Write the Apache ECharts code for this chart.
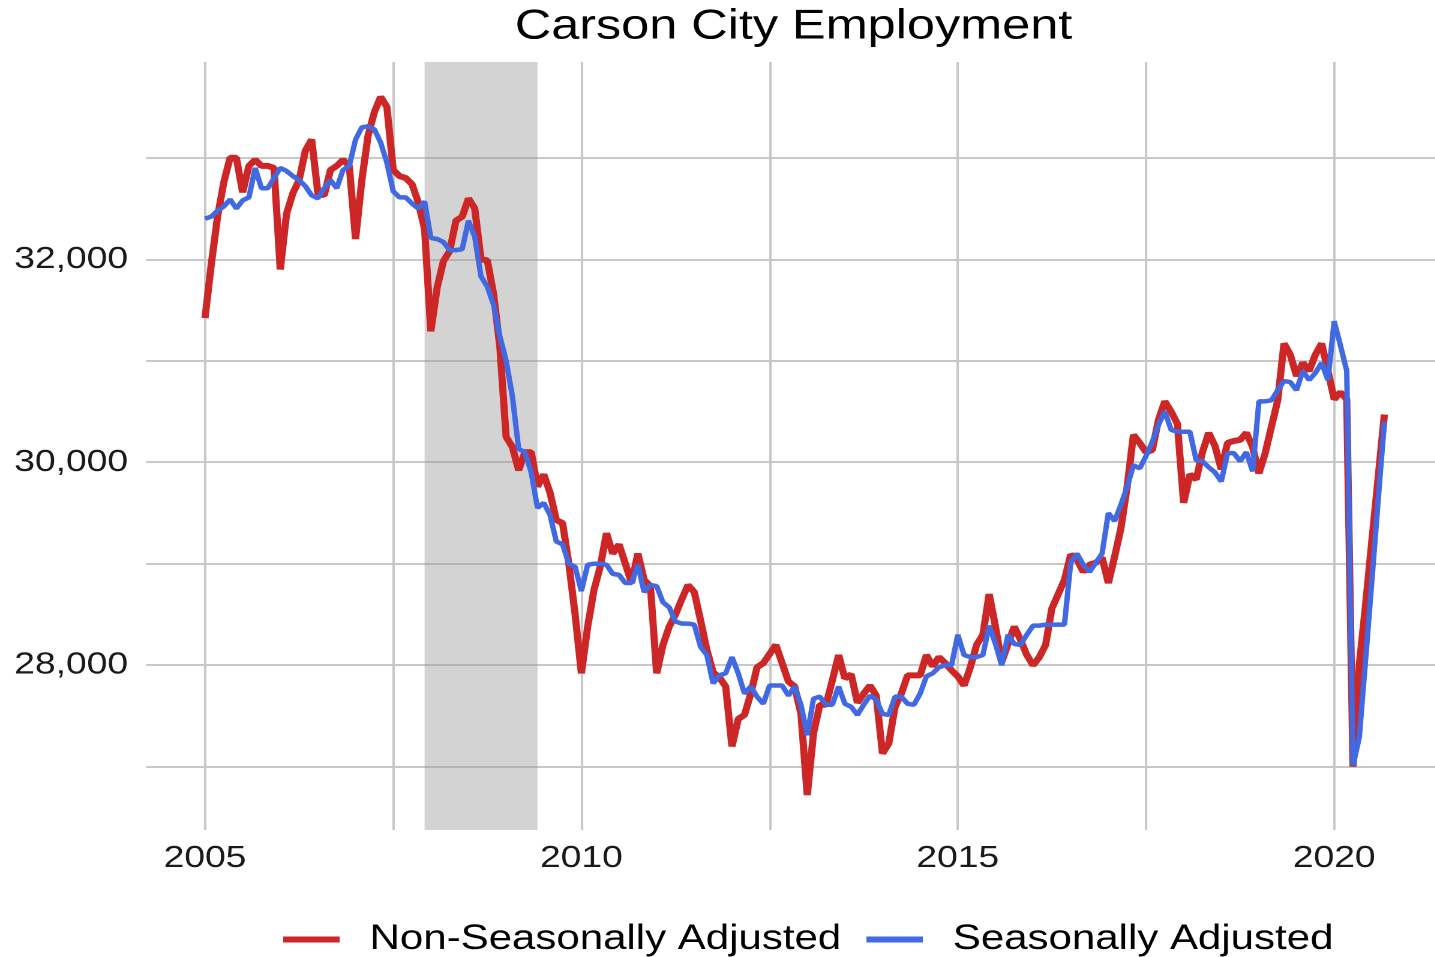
<!DOCTYPE html>
<html>
<head>
<meta charset="utf-8">
<title>Carson City Employment</title>
<script src="https://cdn.jsdelivr.net/npm/echarts@6/dist/echarts.min.js"></script>
<style>
  html, body { margin: 0; padding: 0; background: #fff; overflow: hidden; }
  /* the source picture is stretched sideways, so draw narrow and widen it */
  #chart { width: 1196px; height: 957px; transform: scaleX(1.2); transform-origin: 0 0; }
</style>
</head>
<body>
<div id="chart"></div>
<script>
// monthly values, Jan 2005 .. Sep 2020, one row per year
var startYear = 2005;
var nsaValues = [
  31420, 31950, 32420, 32760, 33000, 33000, 32660, 32920, 32980, 32920, 32920, 32900,
  31900, 32450, 32650, 32780, 33070, 33180, 32650, 32630, 32880, 32920, 32980, 32920,
  32200, 32780, 33220, 33450, 33600, 33500, 32880, 32820, 32800, 32740, 32560, 32300,
  31290, 31720, 31980, 32080, 32380, 32420, 32600, 32500, 32000, 31990, 31660, 31140,
  30250, 30150, 29920, 30100, 30100, 29760, 29880, 29700, 29430, 29400, 29000, 28500,
  27920, 28380, 28740, 28970, 29300, 29100, 29190, 29000, 28810, 29100, 28840, 28780,
  27920, 28200, 28380, 28500, 28650, 28790, 28720, 28440, 28150, 27930, 27880, 27790,
  27200, 27470, 27510, 27720, 27980, 28020, 28110, 28200, 28020, 27840, 27790, 27520,
  26720, 27330, 27610, 27610, 27850, 28100, 27870, 27910, 27630, 27720, 27800, 27700,
  27130, 27230, 27590, 27720, 27900, 27900, 27900, 28100, 27990, 28080, 28020, 27950,
  27890, 27800, 27980, 28200, 28300, 28700, 28380, 28030, 28210, 28380, 28250, 28100,
  28000, 28080, 28200, 28560, 28700, 28840, 29090, 29040, 28920, 28990, 29010, 29060,
  28810, 29070, 29350, 29760, 30270, 30190, 30100, 30120, 30420, 30600, 30500, 30380,
  29600, 29880, 29830, 30100, 30290, 30160, 29930, 30190, 30210, 30220, 30290, 30150,
  29890, 30090, 30350, 30610, 31170, 31060, 30850, 30980, 30900, 31060, 31170, 30900,
  30620, 30690, 30620, 27000, 28000, 28590, 29220, 29840, 30470
];
var saValues = [
  32400, 32420, 32480, 32520, 32590, 32500, 32580, 32610, 32900, 32700, 32700, 32800,
  32900, 32870, 32820, 32780, 32720, 32630, 32600, 32700, 32780, 32700, 32880, 32920,
  33180, 33300, 33310, 33280, 33150, 32950, 32670, 32610, 32610, 32550, 32500, 32570,
  32210, 32200, 32170, 32090, 32090, 32100, 32380, 32220, 31830, 31730, 31550, 31240,
  31000, 30650, 30130, 30100, 29900, 29550, 29600, 29480, 29220, 29190, 29000, 28970,
  28730, 28990, 29000, 29000, 28990, 28900, 28890, 28810, 28810, 28990, 28720, 28790,
  28780, 28620, 28570, 28430, 28410, 28410, 28400, 28180, 28100, 27820, 27900, 27920,
  28080, 27920, 27720, 27790, 27690, 27620, 27800, 27800, 27800, 27700, 27790, 27610,
  27310, 27670, 27690, 27610, 27610, 27790, 27620, 27590, 27510, 27610, 27700, 27660,
  27520, 27510, 27690, 27690, 27620, 27610, 27720, 27890, 27920, 27980, 28000, 28000,
  28300, 28100, 28080, 28080, 28100, 28390, 28210, 28000, 28300, 28210, 28200, 28300,
  28390, 28390, 28400, 28400, 28400, 28400, 29010, 29100, 28990, 28920, 29010, 29100,
  29500, 29420, 29580, 29760, 29970, 29940, 30060, 30200, 30370, 30500, 30320, 30300,
  30300, 30300, 30020, 30010, 29950, 29900, 29810, 30090, 30090, 30010, 30100, 29910,
  30600, 30600, 30610, 30710, 30800, 30790, 30710, 30900, 30810, 30880, 30980, 30810,
  31390, 31150, 30900, 27010, 27290, 28050, 28830, 29620, 30400
];
var seriesNames = ['Non-Seasonally Adjusted', 'Seasonally Adjusted'];
var recession = [2007.917, 2009.417]; // Dec 2007 - Jun 2009
var xTicks = [2005, 2007.5, 2010, 2012.5, 2015, 2017.5, 2020];
var xLabels = [2005, 2010, 2015, 2020];
var yTicks = [27000, 28000, 29000, 30000, 31000, 32000, 33000];
var yLabels = [28000, 30000, 32000];

function toPoints(values) {
  return values.map(function (v, i) {
    return [startYear + i / 12, v];
  });
}

var chart = echarts.init(document.getElementById('chart'), null, { renderer: 'canvas', devicePixelRatio: 2 });
var font = 'Liberation Sans, Arial, sans-serif';

var option = {
  animation: false,
  backgroundColor: '#ffffff',
  title: {
    text: 'Carson City Employment',
    left: 429,
    top: 6,
    padding: 0,
    textStyle: { fontFamily: font, fontSize: 42, fontWeight: 'normal', color: '#000' }
  },
  legend: {
    data: seriesNames,
    left: 231,
    top: 917,
    icon: 'rect',
    itemWidth: 47,
    itemHeight: 6,
    itemGap: 21,
    textStyle: { fontFamily: font, fontSize: 35, color: '#000', padding: [0, 0, 0, 20] }
  },
  grid: { left: 121.7, right: 0, top: 62, bottom: 127, containLabel: false },
  xAxis: {
    type: 'value',
    min: 2004.217,
    max: 2021.342,
    axisLine: { show: false },
    axisTick: { show: false, customValues: xTicks },
    axisLabel: {
      customValues: xLabels,
      margin: 13,
      fontFamily: font,
      fontSize: 31,
      color: '#1a1a1a',
      formatter: function (v) { return String(v); }
    },
    splitLine: { show: true, lineStyle: { color: '#c8c8c8', width: 2 } }
  },
  yAxis: {
    type: 'value',
    min: 26376,
    max: 33944,
    axisLine: { show: false },
    axisTick: { show: false, customValues: yTicks },
    axisLabel: {
      customValues: yLabels,
      margin: 15,
      fontFamily: font,
      fontSize: 31,
      color: '#1a1a1a',
      formatter: function (v) { return v.toLocaleString('en-US'); }
    },
    splitLine: { show: true, lineStyle: { color: '#c8c8c8', width: 2 } }
  },
  series: [
    {
      name: seriesNames[0],
      type: 'line',
      data: toPoints(nsaValues),
      showSymbol: false,
      symbol: 'none',
      color: '#CD2626',
      lineStyle: { color: '#CD2626', width: 6 },
      markArea: {
        silent: true,
        itemStyle: { color: 'rgba(150,150,150,0.42)' },
        data: [[{ xAxis: recession[0] }, { xAxis: recession[1] }]]
      },
      z: 2
    },
    {
      name: seriesNames[1],
      type: 'line',
      data: toPoints(saValues),
      showSymbol: false,
      symbol: 'none',
      color: '#4169E1',
      lineStyle: { color: '#4169E1', width: 4.5 },
      z: 3
    }
  ]
};

chart.setOption(option);
</script>
</body>
</html>
